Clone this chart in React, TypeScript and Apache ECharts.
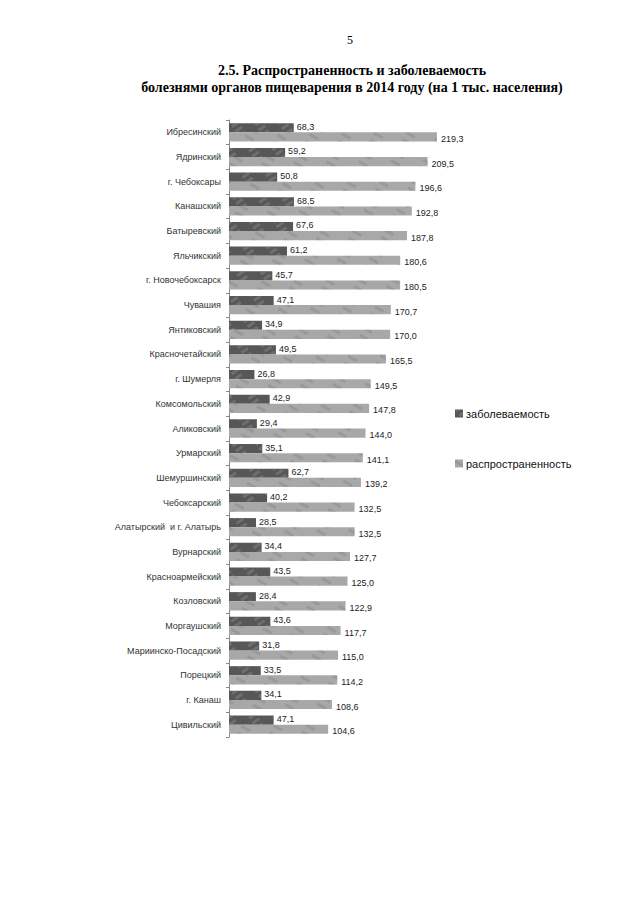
import React, { useEffect, useRef } from "react";
import * as echarts from "echarts";

const categories = [
  "Ибресинский", "Ядринский", "г. Чебоксары", "Канашский", "Батыревский", "Яльчикский",
  "г. Новочебоксарск", "Чувашия", "Янтиковский", "Красночетайский", "г. Шумерля",
  "Комсомольский", "Аликовский", "Урмарский", "Шемуршинский", "Чебоксарский",
  "Алатырский  и г. Алатырь", "Вурнарский", "Красноармейский", "Козловский",
  "Моргаушский", "Мариинско-Посадский", "Порецкий", "г. Канаш", "Цивильский",
];
const incidence = [
  68.3, 59.2, 50.8, 68.5, 67.6, 61.2, 45.7, 47.1, 34.9, 49.5, 26.8, 42.9, 29.4,
  35.1, 62.7, 40.2, 28.5, 34.4, 43.5, 28.4, 43.6, 31.8, 33.5, 34.1, 47.1,
];
const prevalence = [
  219.3, 209.5, 196.6, 192.8, 187.8, 180.6, 180.5, 170.7, 170.0, 165.5, 149.5,
  147.8, 144.0, 141.1, 139.2, 132.5, 132.5, 127.7, 125.0, 122.9, 117.7, 115.0,
  114.2, 108.6, 104.6,
];
const seriesNames = ["заболеваемость", "распространенность"];
const pageNumber = "5";
const titleLines = [
  "2.5. Распространенность и заболеваемость",
  "болезнями органов пищеварения в 2014 году (на 1 тыс. населения)",
];

const fmt = (v: number) => v.toFixed(1).replace(".", ",");
const FONT = "Liberation Sans";
const SERIF = "Liberation Serif";

export default function App() {
  const ref = useRef<HTMLDivElement>(null);
  useEffect(() => {
    const chart = echarts.init(ref.current!, null, { renderer: "svg" });
    chart.setOption({
      animation: false,
      backgroundColor: "#ffffff",
      graphic: [
        { type: "text", x: 350, y: 40, style: { text: pageNumber, fontFamily: SERIF, fontSize: 12, fill: "#000", align: "center", verticalAlign: "middle" } },
        { type: "text", x: 352, y: 70, style: { text: titleLines[0], fontFamily: SERIF, fontWeight: "bold", fontSize: 14, fill: "#000", align: "center", verticalAlign: "middle" } },
        { type: "text", x: 352, y: 87, style: { text: titleLines[1], fontFamily: SERIF, fontWeight: "bold", fontSize: 14, fill: "#000", align: "center", verticalAlign: "middle" } },
      ],
      legend: {
        orient: "vertical",
        left: 450,
        top: 403,
        itemWidth: 8,
        itemHeight: 8,
        itemGap: 39,
        icon: "rect",
        textStyle: { fontFamily: FONT, fontSize: 11, color: "#111", padding: [0, 0, 0, -2] },
        data: seriesNames,
      },
      grid: { left: 229, top: 120, width: 237, height: 617, containLabel: false },
      xAxis: {
        type: "value",
        min: 0,
        max: 250,
        show: false,
      },
      yAxis: {
        type: "category",
        inverse: true,
        data: categories,
        axisLine: { show: true, lineStyle: { color: "#888", width: 1 } },
        axisTick: { show: true, length: 3, lineStyle: { color: "#888" } },
        axisLabel: { fontFamily: FONT, fontSize: 9, color: "#333", margin: 8 },
      },
      series: [
        {
          name: seriesNames[0],
          type: "bar",
          data: incidence,
          barCategoryGap: "26%",
          barGap: "0%",
          itemStyle: {
            color: "#575757",
            decal: {
              symbol: "rect",
              color: "rgba(150,150,150,0.35)",
              dashArrayX: [[8, 12]],
              dashArrayY: [3, 3],
              rotation: -0.6,
              symbolSize: 1,
            },
          },
          label: {
            show: true,
            position: "right",
            distance: 3,
            offset: [0, -1],
            formatter: (p: any) => fmt(p.value),
            fontFamily: FONT,
            fontSize: 9,
            color: "#222",
          },
        },
        {
          name: seriesNames[1],
          type: "bar",
          data: prevalence,
          barCategoryGap: "26%",
          barGap: "0%",
          itemStyle: {
            color: "#a8a8a8",
            decal: {
              symbol: "rect",
              color: "rgba(120,120,120,0.3)",
              dashArrayX: [[10, 18]],
              dashArrayY: [3, 5],
              rotation: 0.5,
              symbolSize: 1,
            },
          },
          label: {
            show: true,
            position: "right",
            distance: 4,
            offset: [0, 2],
            formatter: (p: any) => fmt(p.value),
            fontFamily: FONT,
            fontSize: 9,
            color: "#222",
          },
        },
      ],
    });
    return () => chart.dispose();
  }, []);
  return (
    <div
      ref={ref}
      style={{ position: "absolute", left: 0, top: 0, width: 640, height: 905, background: "#fff" }}
    />
  );
}
